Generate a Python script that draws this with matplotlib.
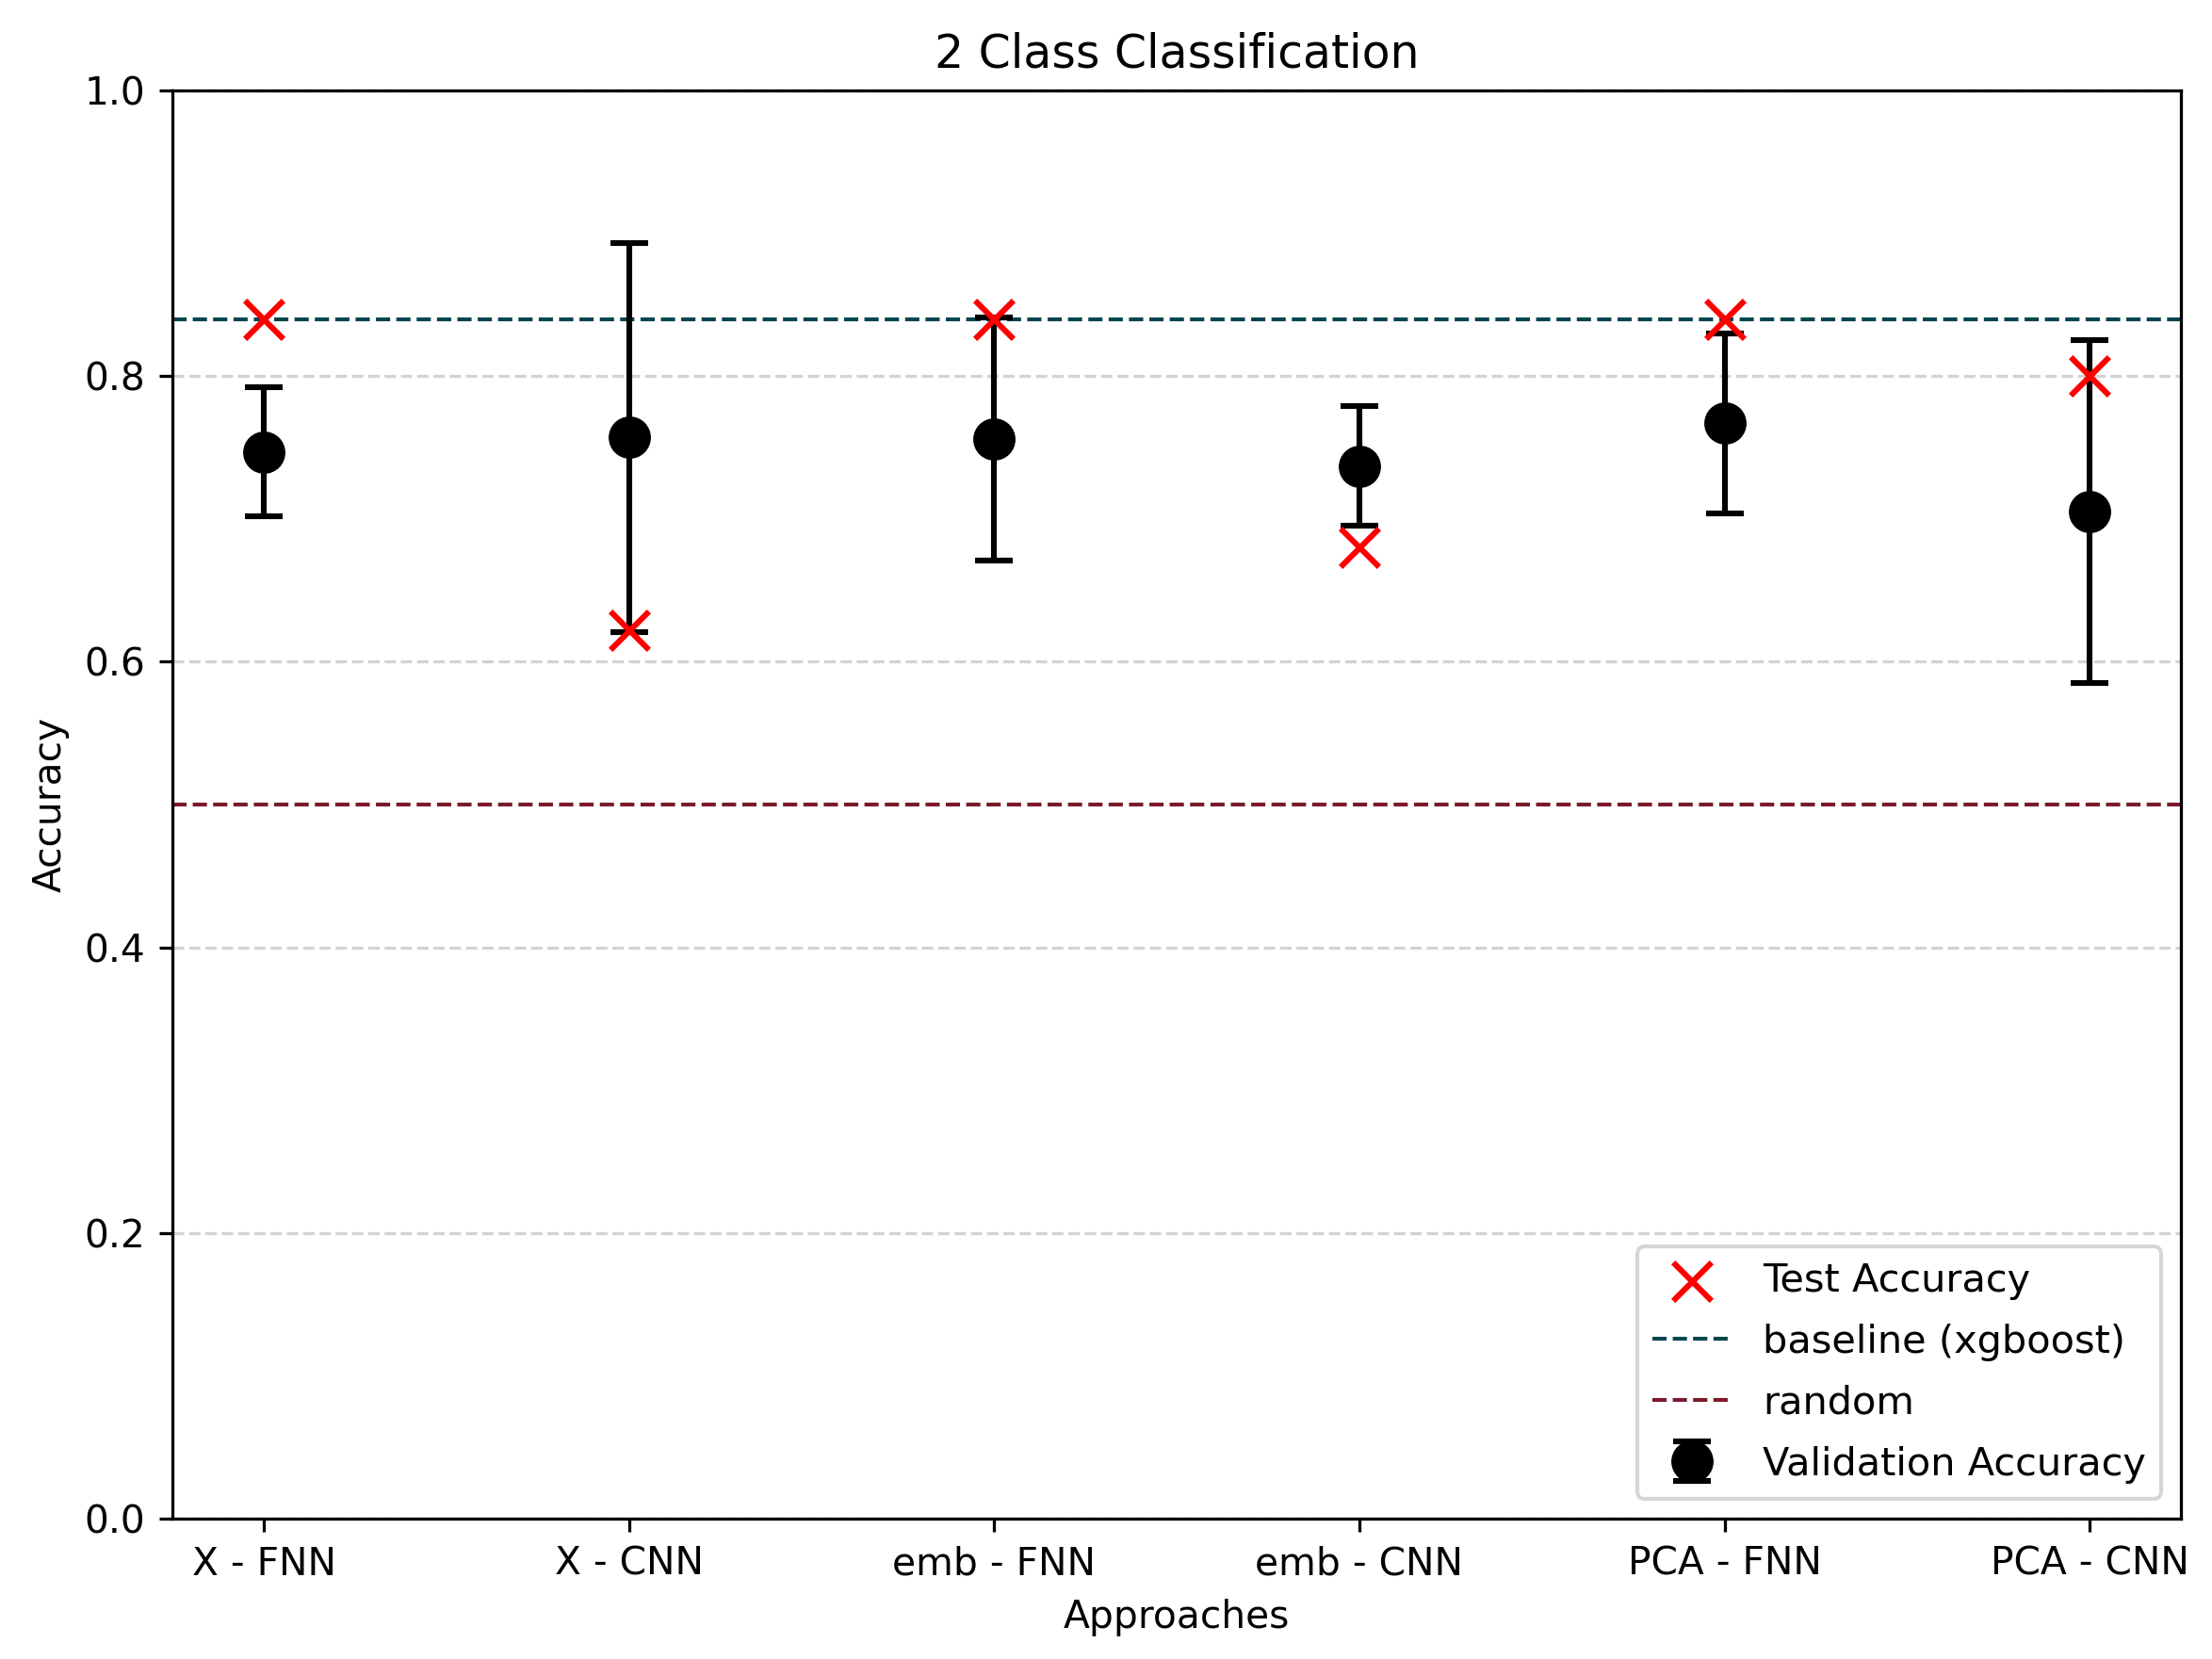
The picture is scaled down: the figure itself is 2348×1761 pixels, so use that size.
import numpy as np
import matplotlib
matplotlib.use("Agg")
import matplotlib.pyplot as plt

# approaches and their accuracies
approaches = ["X - FNN", "X - CNN", "emb - FNN", "emb - CNN", "PCA - FNN", "PCA - CNN"]
val_mean = [0.747, 0.757, 0.756, 0.737, 0.767, 0.705]
val_std = [0.045, 0.136, 0.085, 0.042, 0.063, 0.120]
test_acc = [0.840, 0.622, 0.840, 0.680, 0.840, 0.800]
baseline_acc = 0.84
random_acc = 0.5

fig, ax = plt.subplots(figsize=(8, 6))
x = np.arange(len(approaches))

ax.scatter(x, test_acc, marker="x", color="red", s=100, label="Test Accuracy", zorder=4)
ax.axhline(baseline_acc, color="#00464f", linestyle="--", linewidth=1, label="baseline (xgboost)")
ax.axhline(random_acc, color="#7b1a2c", linestyle="--", linewidth=1, label="random")
ax.errorbar(x, val_mean, yerr=val_std, fmt="o", color="black", markersize=10,
            capsize=5, elinewidth=1.5, capthick=1.5, label="Validation Accuracy", zorder=3)

ax.set_xticks(x)
ax.set_xticklabels(approaches)
ax.set_xlim(-0.25, 5.25)
ax.set_ylim(0, 1)
ax.yaxis.grid(True, linestyle="--", color="lightgray", linewidth=0.8)
ax.set_axisbelow(True)
ax.set_xlabel("Approaches")
ax.set_ylabel("Accuracy")
ax.set_title("2 Class Classification")
ax.legend(loc="lower right", fontsize=10.2, labelspacing=0.6)

fig.subplots_adjust(left=0.078, right=0.986, top=0.9455, bottom=0.0845)
fig.savefig("out.png", dpi=293.5)
